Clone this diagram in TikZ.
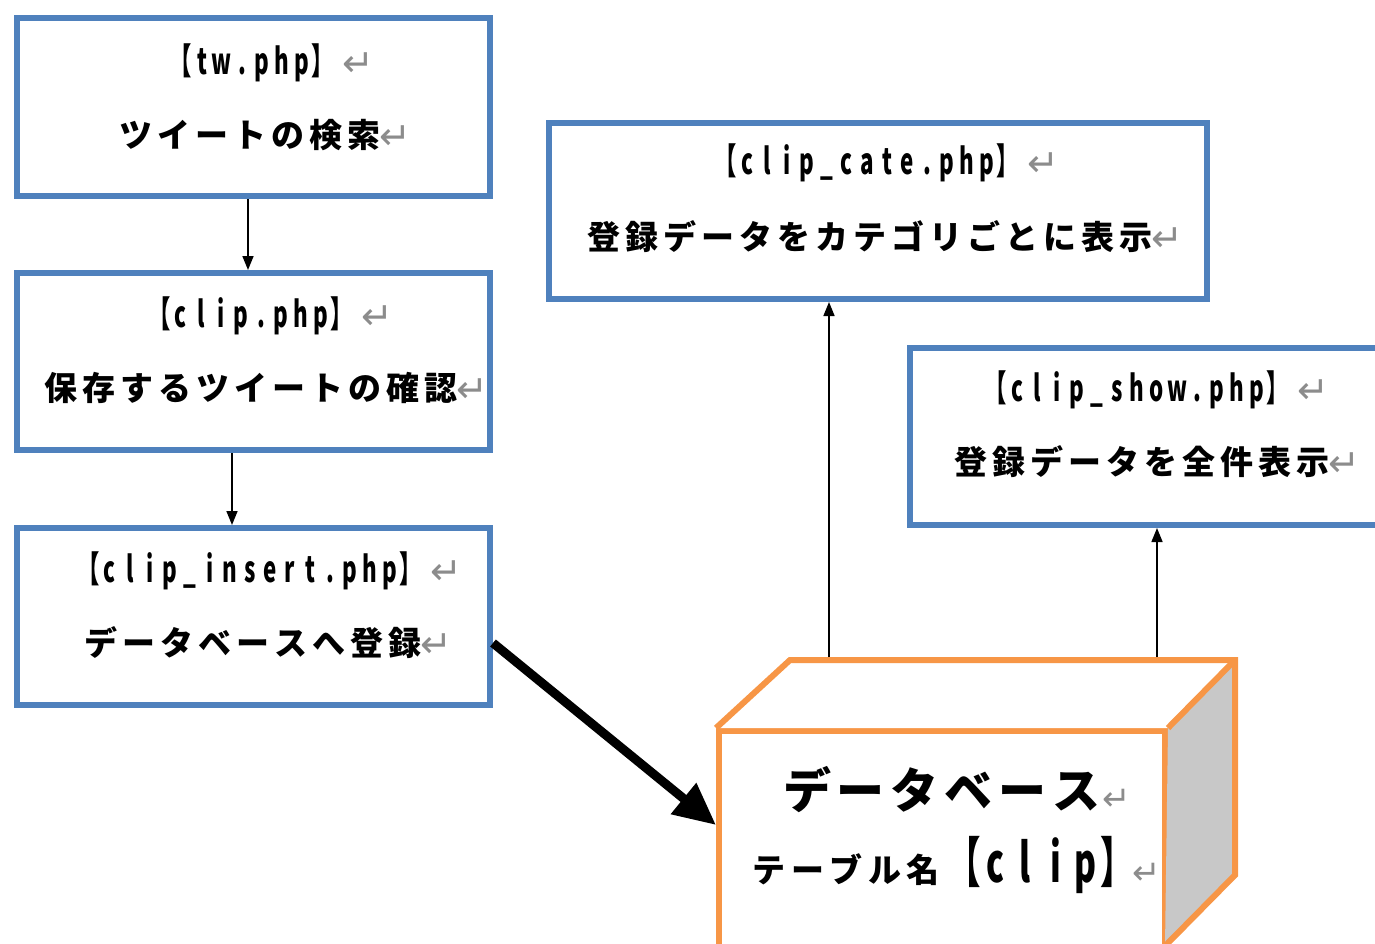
\documentclass[tikz,border=0pt]{standalone}
\usepackage{fontspec}
\setmainfont{Noto Sans CJK JP}
\newfontfamily\latf[FakeStretch=0.62]{Noto Sans CJK JP}
\newfontfamily\symf{DejaVu Sans}
\usetikzlibrary{arrows.meta}
\definecolor{bxblue}{HTML}{4F81BD}
\definecolor{dborange}{HTML}{F79646}
\definecolor{sidegray}{HTML}{C8C8C8}
\definecolor{markgray}{HTML}{8C8C8C}
\newlength\pitch
\def\pitched#1{\pitchedA#1\relax}
\def\pitchedA#1{\ifx\relax#1\else\makebox[\pitch][c]{#1}\expandafter\pitchedA\fi}
\newcommand\retmark[2][38]{\hspace{#2}\raisebox{-2pt}{\symf\fontsize{#1}{#1}\selectfont\color{markgray}↵}}
\newcommand\jline[1]{{\bfseries\fontsize{33}{33}\selectfont\setlength\pitch{38pt}\pitched{#1}}\retmark{-4pt}}
\newcommand\lline[1]{{\latf\bfseries\fontsize{36}{36}\selectfont\makebox[24pt][r]{【}\setlength\pitch{20pt}\pitched{#1}\makebox[30pt][l]{】}}\retmark{0pt}}
\tikzset{
  phpbox/.style={draw=bxblue,line width=6pt,fill=white,rectangle,inner sep=0pt},
  txt/.style={anchor=west,inner sep=0pt,outer sep=0pt},
  arr/.style={line width=1.6pt,-{Triangle[length=14pt,width=11pt]}},
  bigarr/.style={line width=9pt,-{Triangle[length=42pt,width=38pt]}},
  dbline/.style={draw=dborange,line width=6pt,line join=miter},
}
\begin{document}
\begin{tikzpicture}[x=1pt,y=-1pt]
\path[use as bounding box] (0,0) rectangle (1375,943);
\begin{scope}
\clip (0,0) rectangle (1375,943);
% boxes
\node[phpbox,minimum width=473pt,minimum height=178pt] (b1) at (253.5,107) {};
\node[phpbox,minimum width=473pt,minimum height=177pt] (b2) at (253.5,361.5) {};
\node[phpbox,minimum width=473pt,minimum height=177pt] (b3) at (253.5,616.5) {};
\node[phpbox,minimum width=658pt,minimum height=176pt] (b4) at (878,211) {};
\node[phpbox,minimum width=470pt,minimum height=177pt] (b5) at (1145,436.5) {};
% texts
\node[txt] (t1a) at (168,63) {\lline{tw.php}};
\node[txt] (t1b) at (117,135) {\jline{ツイートの検索}};
\node[txt] (t2a) at (147,316) {\lline{clip.php}};
\node[txt] (t2b) at (42,388) {\jline{保存するツイートの確認}};
\node[txt] (t3a) at (76,571) {\lline{clip\_insert.php}};
\node[txt] (t3b) at (82,643) {\jline{データベースへ登録}};
\node[txt] (t4a) at (713,163) {\lline{clip\_cate.php}};
\node[txt] (t4b) at (585,237) {\jline{登録データをカテゴリごとに表示}};
\node[txt] (t5a) at (983,390) {\lline{clip\_show.php}};
\node[txt] (t5b) at (952,462) {\jline{登録データを全件表示}};
% database box
\node[draw=dborange,line width=6pt,fill=white,rectangle,inner sep=0pt,minimum width=446pt,minimum height=238pt] (db) at (942,850) {};
\fill[white] (db.north west) -- (790,660) -- (1235,660) -- (db.north east) -- cycle;
\fill[sidegray] (db.north east) -- (1235,660) -- (1235,875) -- (1165,946) -- cycle;
\draw[dbline] (db.north west) -- (790,660) -- (1235,660) -- (1235,875) -- (1165,946);
\draw[dbline] (db.north east) -- (1235,660);
\node[txt] (d1) at (780,790) {{\bfseries\fontsize{48}{48}\selectfont\setlength\pitch{54pt}\pitched{データベース}}\retmark[34]{-2pt}};
\node[txt] (d2) at (750,865) {{\bfseries\fontsize{33}{33}\selectfont\setlength\pitch{38.5pt}\pitched{テーブル名}}{\latf\bfseries\fontsize{54}{54}\selectfont\makebox[38pt][r]{【}\setlength\pitch{30pt}\pitched{clip}\makebox[32pt][l]{】}}\retmark[34]{0pt}};
% connectors
\coordinate (c1) at (248,0);
\coordinate (c2) at (232,0);
\coordinate (c3) at (829,657);
\coordinate (c4) at (1157,657);
\draw[arr] (b1.south -| c1) -- (b2.north -| c1);
\draw[arr] (b2.south -| c2) -- (b3.north -| c2);
\draw[arr] (c3) -- (c3 |- b4.south);
\draw[arr] (c4) -- (c4 |- b5.south);
\draw[bigarr] ([yshift=-26.5pt]b3.east) -- ([yshift=25pt]db.west);
\end{scope}
\end{tikzpicture}
\end{document}
